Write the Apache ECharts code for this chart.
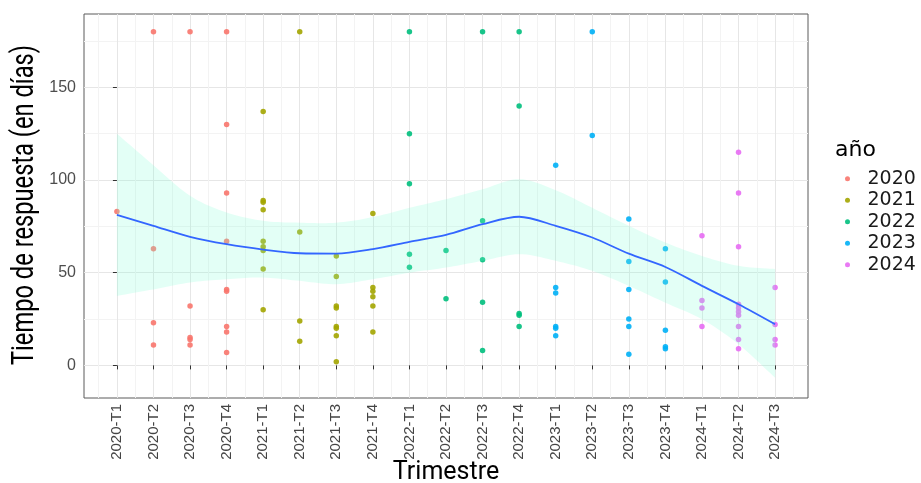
<!DOCTYPE html>
<html>
<head>
<meta charset="utf-8">
<script src="https://cdn.jsdelivr.net/npm/echarts@6/dist/echarts.min.js"></script>
<style>
html,body{margin:0;padding:0;background:#fff;}
#chart{width:921px;height:483px;}
</style>
</head>
<body>
<div id="chart"></div>
<script>
// ---- data ----
const categories = ['2020-T1','2020-T2','2020-T3','2020-T4','2021-T1','2021-T2','2021-T3','2021-T4',
  '2022-T1','2022-T2','2022-T3','2022-T4','2023-T1','2023-T2','2023-T3','2023-T4','2024-T1','2024-T2','2024-T3'];
const years = ['2020','2021','2022','2023','2024'];
const yTicks = [0, 50, 100, 150];
const yMinorTicks = [25, 75, 125, 175];

const pts2020 = [['2020-T1',83],
  ['2020-T2',180],['2020-T2',63],['2020-T2',23],['2020-T2',11],
  ['2020-T3',180],['2020-T3',32],['2020-T3',15],['2020-T3',14],['2020-T3',11],
  ['2020-T4',180],['2020-T4',130],['2020-T4',93],['2020-T4',67],['2020-T4',41],['2020-T4',40],['2020-T4',21],['2020-T4',18],['2020-T4',7]];
const pts2021 = [['2021-T1',137],['2021-T1',89],['2021-T1',88],['2021-T1',84],['2021-T1',67],['2021-T1',64],['2021-T1',62],['2021-T1',52],['2021-T1',30],
  ['2021-T2',180],['2021-T2',72],['2021-T2',24],['2021-T2',13],
  ['2021-T3',59],['2021-T3',48],['2021-T3',32],['2021-T3',31],['2021-T3',21],['2021-T3',20],['2021-T3',16],['2021-T3',2],
  ['2021-T4',82],['2021-T4',42],['2021-T4',40],['2021-T4',37],['2021-T4',32],['2021-T4',18]];
const pts2022 = [['2022-T1',180],['2022-T1',125],['2022-T1',98],['2022-T1',60],['2022-T1',53],
  ['2022-T2',62],['2022-T2',36],
  ['2022-T3',180],['2022-T3',78],['2022-T3',57],['2022-T3',34],['2022-T3',8],
  ['2022-T4',180],['2022-T4',140],['2022-T4',28],['2022-T4',27],['2022-T4',21]];
const pts2023 = [['2023-T1',108],['2023-T1',42],['2023-T1',39],['2023-T1',21],['2023-T1',20],['2023-T1',16],
  ['2023-T2',180],['2023-T2',124],
  ['2023-T3',79],['2023-T3',56],['2023-T3',41],['2023-T3',25],['2023-T3',21],['2023-T3',6],
  ['2023-T4',63],['2023-T4',45],['2023-T4',19],['2023-T4',10],['2023-T4',9]];
const pts2024 = [['2024-T1',70],['2024-T1',35],['2024-T1',31],['2024-T1',21],
  ['2024-T2',115],['2024-T2',93],['2024-T2',64],['2024-T2',33],['2024-T2',31],['2024-T2',29],['2024-T2',27],['2024-T2',21],['2024-T2',14],['2024-T2',9],
  ['2024-T3',42],['2024-T3',22],['2024-T3',14],['2024-T3',11]];

const smoothFit   = [81.2, 75.3, 69.4, 65.4, 62.5, 60.5, 60.3, 62.7, 66.6, 70.4, 76.2, 80.2, 75.3, 69.0, 60.3, 53.1, 42.9, 33.0, 22.2];
const smoothUpper = [125, 108, 91.5, 82.5, 78, 77, 77, 80, 85, 89.7, 95, 100.5, 94.5, 85, 75.3, 66.3, 59, 53.7, 52];
const smoothLower = [37.5, 41, 44.7, 46.5, 47.4, 45.6, 43.8, 46.5, 50, 52.8, 56.4, 60, 56.4, 51, 42.9, 33.8, 24.9, 11.4, -6.7];

const yearColors = ['#F8766D', '#A3A500', '#00BF7D', '#00B0F6', '#E76BF3'];

// ---- build ----
const idx = categories.map((c, i) => i);
const halfIdx = [-0.5].concat(idx.map(i => i + 0.5));
const allPts = [pts2020, pts2021, pts2022, pts2023, pts2024];

const scatterSeries = allPts.map((pts, k) => ({
  name: years[k],
  type: 'scatter',
  symbol: 'circle',
  symbolSize: 5.5,
  z: 2,
  itemStyle: { color: yearColors[k], opacity: 0.9 },
  data: pts.map(p => [categories.indexOf(p[0]), p[1]])
}));

// Catmull-Rom smoothing of pixel points (rendering only)
function smoothPixels(pts, steps) {
  const out = [];
  for (let i = 0; i < pts.length - 1; i++) {
    const p0 = pts[Math.max(0, i - 1)], p1 = pts[i], p2 = pts[i + 1], p3 = pts[Math.min(pts.length - 1, i + 2)];
    for (let s = 0; s < steps; s++) {
      const t = s / steps, t2 = t * t, t3 = t2 * t;
      const f = (a, b, c, d) => 0.5 * ((2 * b) + (-a + c) * t + (2 * a - 5 * b + 4 * c - d) * t2 + (-a + 3 * b - 3 * c + d) * t3);
      out.push([f(p0[0], p1[0], p2[0], p3[0]), f(p0[1], p1[1], p2[1], p3[1])]);
    }
  }
  out.push(pts[pts.length - 1]);
  return out;
}

const bandSeries = {
  name: '_band', type: 'custom', silent: true, z: 3,
  data: [0],
  clip: true,
  renderItem: function (params, api) {
    const top = smoothPixels(smoothUpper.map((v, i) => api.coord([i, v])), 10);
    const bot = smoothPixels(smoothLower.map((v, i) => api.coord([i, v])), 10).reverse();
    return {
      type: 'polygon',
      shape: { points: top.concat(bot) },
      style: { fill: 'rgba(127,255,212,0.22)' }
    };
  }
};

const option = {
  animation: false,
  backgroundColor: '#ffffff',
  grid: { left: 84, top: 14, right: 113, bottom: 85, show: true, borderColor: '#5a5a5a', borderWidth: 1, backgroundColor: '#ffffff' },
  xAxis: [
    {
      type: 'value', min: -0.9, max: 18.9,
      axisLine: { show: false },
      axisTick: { show: true, customValues: idx, length: 4, lineStyle: { color: '#333' } },
      axisLabel: { customValues: idx, rotate: 90, margin: 6, fontSize: 15, color: '#444', fontFamily: 'Liberation Sans',
        formatter: v => categories[Math.round(v)] },
      splitLine: { show: true, lineStyle: { color: '#e6e6e6', width: 1 } }
    },
    {
      type: 'value', min: -0.9, max: 18.9, position: 'bottom',
      axisLine: { show: false },
      axisTick: { show: false, customValues: halfIdx },
      axisLabel: { show: false },
      splitLine: { show: true, lineStyle: { color: '#f3f3f3', width: 1 } }
    }
  ],
  yAxis: [
    {
      type: 'value', min: -17.6, max: 189.6,
      axisLine: { show: false },
      axisTick: { show: true, customValues: yTicks, length: 4, lineStyle: { color: '#333' } },
      axisLabel: { customValues: yTicks, margin: 8, fontSize: 16, color: '#4d4d4d', fontFamily: 'Liberation Sans' },
      splitLine: { show: true, lineStyle: { color: '#e6e6e6', width: 1 } }
    },
    {
      type: 'value', min: -17.6, max: 189.6, position: 'left',
      axisLine: { show: false },
      axisTick: { show: false, customValues: yMinorTicks },
      axisLabel: { show: false },
      splitLine: { show: true, lineStyle: { color: '#f3f3f3', width: 1 } }
    }
  ],
  legend: {
    data: years,
    orient: 'vertical',
    left: 840, top: 163,
    icon: 'circle',
    itemWidth: 30, itemHeight: 5,
    itemGap: 0,
    selectedMode: false,
    textStyle: { fontFamily: 'DejaVu Sans', fontSize: 19, color: '#1a1a1a', lineHeight: 21.5 }
  },
  graphic: [
    { type: 'text', x: 25, y: 205, rotation: Math.PI / 2, scaleX: 0.74,
      style: { text: 'Tiempo de respuesta (en días)', font: '32px Roboto', fill: '#000', align: 'center', verticalAlign: 'middle' } },
    { type: 'text', x: 446, y: 473,
      style: { text: 'Trimestre', font: '25px Roboto', fill: '#000', align: 'center', verticalAlign: 'middle' } },
    { type: 'text', x: 835, y: 150,
      style: { text: 'año', font: '22px "DejaVu Sans"', fill: '#000', align: 'left', verticalAlign: 'middle' } }
  ],
  series: scatterSeries.concat([
    bandSeries,
    {
      name: '_fit', type: 'line', smooth: 0.3, symbol: 'none', z: 4,
      lineStyle: { color: '#3366FF', width: 1.8 },
      data: smoothFit.map((v, i) => [i, v])
    }
  ])
};

const chart = echarts.init(document.getElementById('chart'), null, { renderer: 'canvas' });
chart.setOption(option);
</script>
</body>
</html>
